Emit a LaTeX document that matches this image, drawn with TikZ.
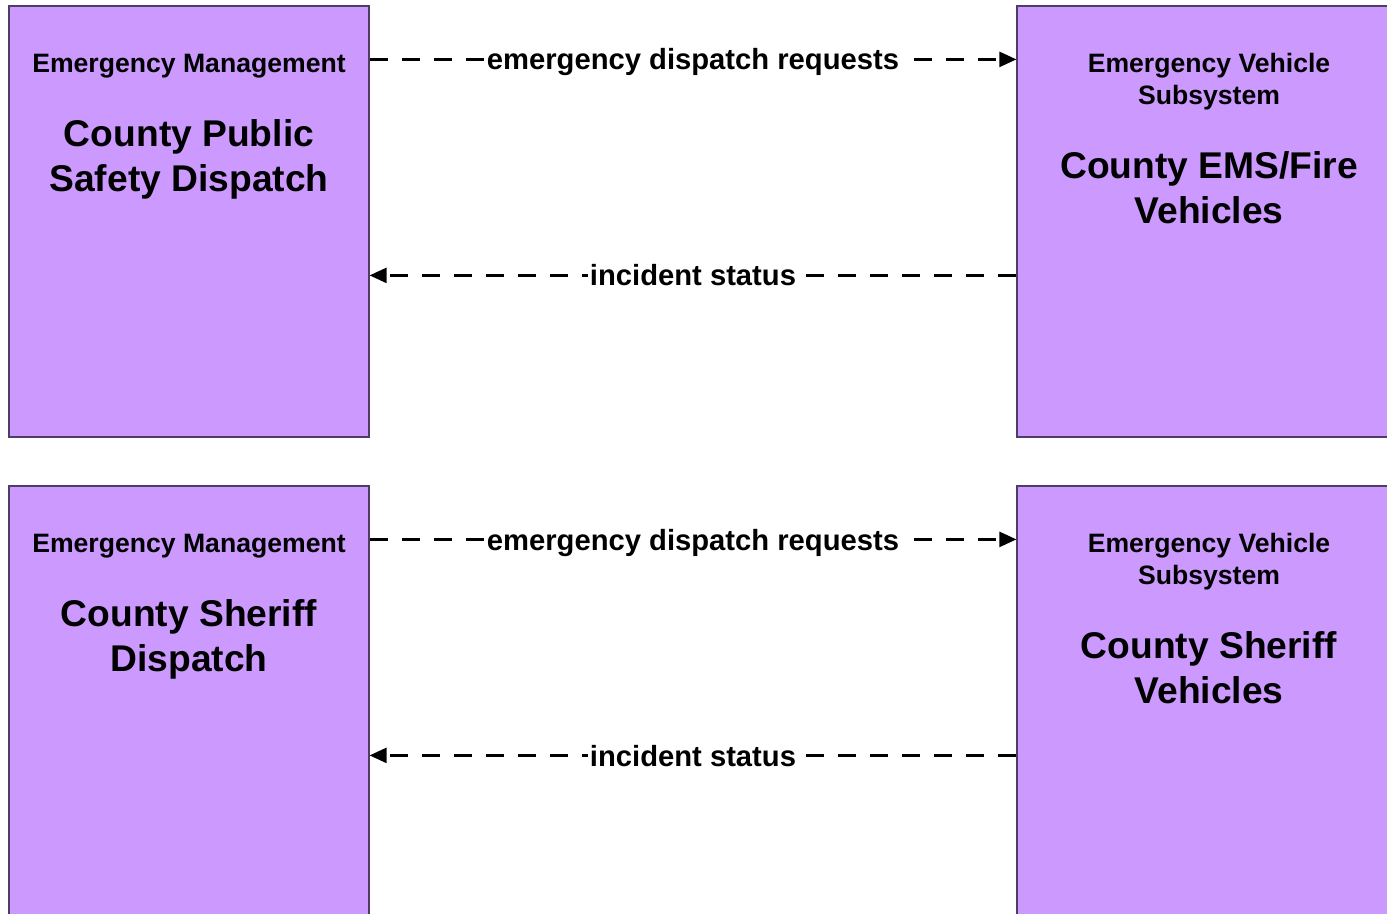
\documentclass[tikz,border=0pt]{standalone}
\usepackage{fontspec}
\setmainfont{Liberation Sans}
\usetikzlibrary{arrows.meta, positioning}
\definecolor{sysfill}{HTML}{CC99FF}
\definecolor{sysline}{HTML}{4D3D66}

\begin{document}
\begin{tikzpicture}[
  x=0.5pt, y=-0.5pt,
  sysbox/.style={draw=sysline, fill=sysfill, line width=0.6pt, minimum height=215.5pt, inner sep=0pt},
  classtxt/.style={font=\bfseries\fontsize{13.3}{16}\selectfont, align=center, inner sep=0pt},
  nametxt/.style={font=\bfseries\fontsize{18.6}{22.5}\selectfont, align=center, inner sep=0pt},
  flow/.style={draw, line width=1.25pt, dash pattern=on 9pt off 7pt, -{Triangle[length=8.5pt,width=7.5pt]}},
  flowlbl/.style={fill=white, font=\bfseries\fontsize{14.6}{17}\selectfont, inner sep=1pt, text height=10.6pt, text depth=0pt}
]
  \clip (0,0) rectangle (1387,914);
  % top pair
  \node[sysbox, minimum width=180pt] (cpsd) at (189,221.5) {};
  \node[sysbox, minimum width=192pt] (cems) at (1209,221.5) {};
  \node[classtxt] (cpsdcls) at ([yshift=-30.5pt]cpsd.north) {Emergency Management};
  \node[nametxt] (cpsdname) at ([yshift=-76.75pt]cpsd.north) {County Public\\Safety Dispatch};
  \node[classtxt] (cemscls) at ([yshift=-38pt]cems.north) {Emergency Vehicle\\Subsystem};
  \node[nametxt] (cemsname) at ([yshift=-91pt]cems.north) {County EMS/Fire\\Vehicles};
  \draw[flow] ([yshift=-27pt]cpsd.north east) -- node[flowlbl] {emergency dispatch requests} ([yshift=-27pt]cems.north west);
  \draw[flow] ([yshift=-135pt]cems.north west) -- node[flowlbl] {incident status} ([yshift=-135pt]cpsd.north east);
  % bottom pair
  \node[sysbox, minimum width=180pt] (csd) at (189,701.5) {};
  \node[sysbox, minimum width=192pt] (csv) at (1209,701.5) {};
  \node[classtxt] (csdcls) at ([yshift=-30.5pt]csd.north) {Emergency Management};
  \node[nametxt] (csdname) at ([yshift=-76.75pt]csd.north) {County Sheriff\\Dispatch};
  \node[classtxt] (csvcls) at ([yshift=-38pt]csv.north) {Emergency Vehicle\\Subsystem};
  \node[nametxt] (csvname) at ([yshift=-91pt]csv.north) {County Sheriff\\Vehicles};
  \draw[flow] ([yshift=-27pt]csd.north east) -- node[flowlbl] {emergency dispatch requests} ([yshift=-27pt]csv.north west);
  \draw[flow] ([yshift=-135pt]csv.north west) -- node[flowlbl] {incident status} ([yshift=-135pt]csd.north east);
\end{tikzpicture}
\end{document}
